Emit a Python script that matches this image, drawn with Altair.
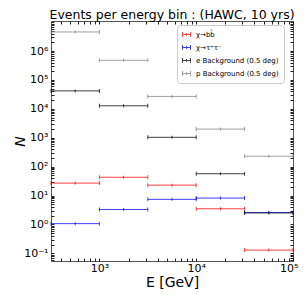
import altair as alt
import pandas as pd

# ---- data ----
series_names = ["χ→bb̄", "χ→τ⁺τ⁻", "e Background (0.5 deg)", "p Background (0.5 deg)"]
series_colors = ["#ff0000", "#0000ff", "#000000", "#808080"]

bin_lo = [316.2, 1000.0, 3162.3, 10000.0, 31622.8]
bin_hi = [1000.0, 3162.3, 10000.0, 31622.8, 100000.0]
bin_mid = [562.3, 1778.3, 5623.4, 17782.8, 56234.1]

n_bb = [27, 43, 23, 3.5, 0.13]
n_tautau = [1.07, 3.3, 7.4, 8.2, 2.6]
n_e_bg = [42000, 12800, 1040, 57, 2.5]
n_p_bg = [4.6e6, 4.8e5, 2.7e4, 2000, 230]

x_tick_labels = ["10³", "10⁴", "10⁵"]
y_tick_labels = ["10⁻¹", "10⁰", "10¹", "10²", "10³", "10⁴", "10⁵", "10⁶", ""]

x_domain = [316.2, 100000.0]
y_domain = [0.0545, 1.1e7]

# ---- table ----
rows = []
for name, vals in zip(series_names, [n_bb, n_tautau, n_e_bg, n_p_bg]):
    for lo, hi, mid, v in zip(bin_lo, bin_hi, bin_mid, vals):
        rows.append({"series": name, "lo": lo, "hi": hi, "mid": mid, "n": v})
df = pd.DataFrame(rows)

# tick positions (major + minor)
x_ticks = []
for e in [2, 3, 4]:
    for m in range(1, 10):
        v = m * 10 ** e
        if x_domain[0] <= v <= x_domain[1]:
            x_ticks.append(float(v))
x_ticks.append(1e5)
y_ticks = []
for e in range(-2, 8):
    for m in range(1, 10):
        v = m * 10.0 ** e
        if y_domain[0] <= v <= y_domain[1]:
            y_ticks.append(v)

exp = "round(log(datum.value)/LN10)"
is_major = f"abs(log(datum.value)/LN10 - {exp}) < 0.0001"
x_label_expr = f"{is_major} ? {x_tick_labels}[{exp} - 3] : ''"
y_label_expr = f"{is_major} ? {y_tick_labels}[{exp} + 1] : ''"

xscale = alt.Scale(type="log", domain=x_domain, nice=False)
yscale = alt.Scale(type="log", domain=y_domain, nice=False)
color = alt.Color(
    "series:N",
    scale=alt.Scale(domain=series_names, range=series_colors),
    legend=alt.Legend(
        title=None, orient="none", legendX=126, legendY=4,
        symbolType="M-1,0H1M-1,-0.6V0.6M1,-0.6V0.6M0,-0.35V0.35",
        symbolSize=64, symbolStrokeWidth=1, symbolFillColor="transparent",
        labelFontSize=7, labelFont="DejaVu Sans", labelLimit=200,
        padding=5, rowPadding=4, labelOffset=5,
        strokeColor="#cccccc", cornerRadius=3, fillColor="white",
    ),
)
color_nl = alt.Color("series:N", scale=alt.Scale(domain=series_names, range=series_colors), legend=None)

bottom_axis = alt.Axis(
    values=x_ticks, labelExpr=x_label_expr, domain=False, offset=-3, tickSize=3,
    tickColor="#222", labelFontSize=11, labelFont="DejaVu Sans", labelColor="black",
    labelPadding=1, labelFlush=True, labelFlushOffset=5, grid=False, title="E [GeV]",
    titleFontSize=14, titleFont="DejaVu Sans", titleFontWeight="normal",
    titleColor="black", titlePadding=2,
)
left_axis = alt.Axis(
    values=y_ticks, labelExpr=y_label_expr, domain=False, offset=-3, tickSize=3,
    tickColor="#222", labelFontSize=11, labelFont="DejaVu Sans", labelColor="black",
    labelPadding=3, labelFlush=False, grid=False, title="N", titleFontSize=14,
    titleFont="DejaVu Sans", titleFontWeight="normal", titleFontStyle="italic",
    titleColor="black", titleX=-30, titleBaseline="alphabetic",
)
top_axis = alt.Axis(orient="top", values=x_ticks, labels=False, domain=False, offset=-3,
                    tickSize=3, tickColor="#222", grid=False, title=None)
right_axis = alt.Axis(orient="right", values=y_ticks, labels=False, domain=False, offset=-3,
                      tickSize=3, tickColor="#222", grid=False, title=None)

base = alt.Chart(df)
op = 0.75
bars = base.mark_rule(strokeWidth=1, opacity=op).encode(
    x=alt.X("lo:Q", scale=xscale, axis=bottom_axis),
    x2="hi:Q",
    y=alt.Y("n:Q", scale=yscale, axis=left_axis),
    color=color,
)
cap_lo = base.mark_tick(orient="vertical", size=4, thickness=1, opacity=op).encode(
    x=alt.X("lo:Q", scale=xscale, axis=None),
    y=alt.Y("n:Q", scale=yscale, axis=None),
    color=color_nl,
)
cap_hi = base.mark_tick(orient="vertical", size=4, thickness=1, opacity=op).encode(
    x=alt.X("hi:Q", scale=xscale, axis=None),
    y=alt.Y("n:Q", scale=yscale, axis=None),
    color=color_nl,
)
mid = base.mark_tick(orient="vertical", size=3, thickness=1, opacity=op).encode(
    x=alt.X("mid:Q", scale=xscale, axis=None),
    y=alt.Y("n:Q", scale=yscale, axis=None),
    color=color_nl,
)
frame = base.mark_rule(opacity=0).encode(
    x=alt.X("lo:Q", scale=xscale, axis=top_axis),
    y=alt.Y("n:Q", scale=yscale, axis=right_axis),
)

chart = (
    alt.layer(bars, cap_lo, cap_hi, mid, frame)
    .resolve_axis(x="independent", y="independent")
    .properties(
        width=242, height=240,
        title=alt.TitleParams("Events per energy bin : (HAWC, 10 yrs)", fontSize=12.5,
                              font="DejaVu Sans", fontWeight="normal", color="black",
                              anchor="middle", offset=-1),
        autosize=alt.AutoSizeParams(type="none"),
        padding={"left": 43, "top": 13, "right": 6, "bottom": 30},
    )
    .configure_view(stroke="#555555", strokeWidth=1)
)
chart.save("out.html", embed_options={"renderer": "svg", "actions": False})
